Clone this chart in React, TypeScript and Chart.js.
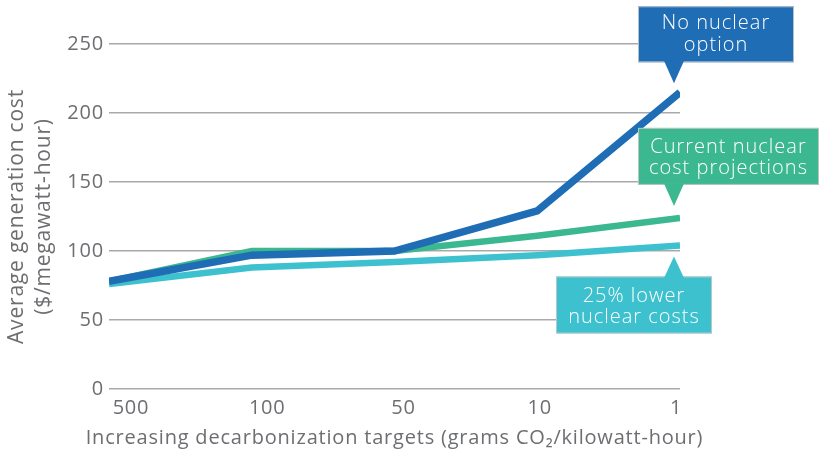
import React, { useEffect, useRef } from "react";
import { Chart, registerables } from "chart.js";

Chart.register(...registerables);

// ---- data ----
const xLabels = ["500", "100", "50", "10", "1"];
const noNuclear = [78, 97, 100, 129, 215];
const currentNuclear = [78, 100, 100, 111, 124];
const lowerNuclear = [76, 88, 92, 97, 104];
const yTickStep = 50;
const yMax = 250;
const xTitle = "Increasing decarbonization targets (grams CO₂/kilowatt-hour)";
const yTitle = ["Average generation cost", "($/megawatt-hour)"];

const BLUE = "#1f6db5";
const GREEN = "#3bb890";
const CYAN = "#3ec1ce";
const TEXT = "#6d6e71";
const GRID = "#a7a9ac";
const FONT = "'Open Sans', 'Noto Sans', sans-serif";
const SPACING = "0.8px";

const callouts = [
  { lines: ["No nuclear", "option"], color: BLUE, series: noNuclear, dir: "down", left: 36, w: 156, h: 56, gap: 9, t1: 17, t2: 39 },
  { lines: ["Current nuclear", "cost projections"], color: GREEN, series: currentNuclear, dir: "down", left: 36, w: 181, h: 57, gap: 12, t1: 19, t2: 40 },
  { lines: ["25% lower", "nuclear costs"], color: CYAN, series: lowerNuclear, dir: "up", left: 118, w: 156, h: 57, gap: 11, t1: 20, t2: 41 },
];

const spacingPlugin = {
  id: "spacing",
  beforeLayout(chart: any) {
    (chart.ctx as any).letterSpacing = SPACING;
  },
  beforeDraw(chart: any) {
    (chart.ctx as any).letterSpacing = SPACING;
  },
};

const xTitlePlugin = {
  id: "xTitle",
  afterDraw(chart: any) {
    const ctx = chart.ctx as CanvasRenderingContext2D;
    const area = chart.chartArea;
    ctx.save();
    (ctx as any).letterSpacing = SPACING;
    ctx.font = `400 20px ${FONT}`;
    ctx.fillStyle = TEXT;
    ctx.textAlign = "center";
    ctx.textBaseline = "alphabetic";
    ctx.fillText(xTitle, (area.left + area.right) / 2, chart.height - 5);
    ctx.restore();
  },
};

const calloutPlugin = {
  id: "callouts",
  afterDatasetsDraw(chart: any) {
    const ctx = chart.ctx as CanvasRenderingContext2D;
    const xs = chart.scales.x;
    const ys = chart.scales.y;
    const last = xLabels.length - 1;
    const px = xs.getPixelForValue(last);
    callouts.forEach((c) => {
      const py = ys.getPixelForValue(c.series[last]);
      const tipX = px - 6;
      let tipY: number, baseY: number, boxTop: number;
      if (c.dir === "down") {
        tipY = py - c.gap;
        baseY = tipY - 21;
        boxTop = baseY - c.h;
      } else {
        tipY = py + c.gap;
        baseY = tipY + 20;
        boxTop = baseY;
      }
      const boxLeft = tipX - c.left;
      ctx.save();
      ctx.fillStyle = c.color;
      ctx.fillRect(boxLeft, boxTop, c.w, c.h);
      ctx.strokeStyle = "rgba(200,200,200,0.9)";
      ctx.lineWidth = 1;
      ctx.strokeRect(boxLeft + 0.5, boxTop + 0.5, c.w - 1, c.h - 1);
      ctx.beginPath();
      const inner = c.dir === "down" ? baseY - 1.5 : baseY + 1.5;
      ctx.moveTo(tipX - 10, inner);
      ctx.lineTo(tipX, tipY);
      ctx.lineTo(tipX + 10, inner);
      ctx.closePath();
      ctx.fill();
      ctx.fillStyle = "#ffffff";
      ctx.font = `300 20px ${FONT}`;
      (ctx as any).letterSpacing = "1px";
      ctx.textAlign = "center";
      ctx.textBaseline = "middle";
      const cx = boxLeft + c.w / 2;
      ctx.fillText(c.lines[0], cx, boxTop + c.t1);
      ctx.fillText(c.lines[1], cx, boxTop + c.t2);
      ctx.restore();
    });
  },
};

export default function App() {
  const ref = useRef<HTMLCanvasElement | null>(null);

  useEffect(() => {
    if (!ref.current) return;
    const mk = (vals: number[]) => vals.map((y, i) => ({ x: i, y }));
    const chart = new Chart(ref.current, {
      type: "line",
      data: {
        datasets: [
          { label: "No nuclear option", data: mk(noNuclear), borderColor: BLUE, borderWidth: 7.5, pointRadius: 0, tension: 0, borderCapStyle: "butt" },
          { label: "Current nuclear cost projections", data: mk(currentNuclear), borderColor: GREEN, borderWidth: 6.5, pointRadius: 0, tension: 0, borderCapStyle: "butt" },
          { label: "25% lower nuclear costs", data: mk(lowerNuclear), borderColor: CYAN, borderWidth: 6.5, pointRadius: 0, tension: 0, borderCapStyle: "butt" },
        ],
      },
      options: {
        animation: false,
        responsive: false,
        maintainAspectRatio: false,
        layout: { padding: { top: 44, right: 139, left: 0, bottom: 0 } },
        plugins: { legend: { display: false }, tooltip: { enabled: false } },
        scales: {
          x: {
            type: "linear",
            min: 0,
            max: xLabels.length - 1,
            grid: { display: false, drawTicks: false },
            border: { display: false },
            afterBuildTicks: (s: any) => {
              s.ticks = xLabels.map((_, i) => ({ value: i + 0.154 - 0.0455 * i }));
            },
            afterFit: (s: any) => {
              s.height = 60;
            },
            ticks: {
              autoSkip: false,
              maxRotation: 0,
              padding: 7,
              color: TEXT,
              font: { family: FONT, size: 20 },
              callback: (_v: any, i: number) => xLabels[i],
            },
            title: { display: false },
          },
          y: {
            min: 0,
            max: yMax,
            grid: { color: GRID, lineWidth: 1.5, drawTicks: false },
            border: { display: false },
            afterFit: (s: any) => {
              s.width = 109;
            },
            ticks: {
              stepSize: yTickStep,
              padding: 5,
              color: TEXT,
              font: { family: FONT, size: 20 },
            },
            title: {
              display: true,
              text: yTitle,
              color: TEXT,
              font: { family: FONT, size: 21, lineHeight: 1.3 },
              padding: { top: 3, bottom: 0 },
            },
          },
        },
      },
      plugins: [spacingPlugin, calloutPlugin, xTitlePlugin],
    });
    return () => chart.destroy();
  }, []);

  return (
    <div style={{ position: "absolute", left: 0, top: 0, width: 819, height: 449, background: "#fff" }}>
      <canvas ref={ref} width={819} height={449} style={{ display: "block" }} />
    </div>
  );
}
